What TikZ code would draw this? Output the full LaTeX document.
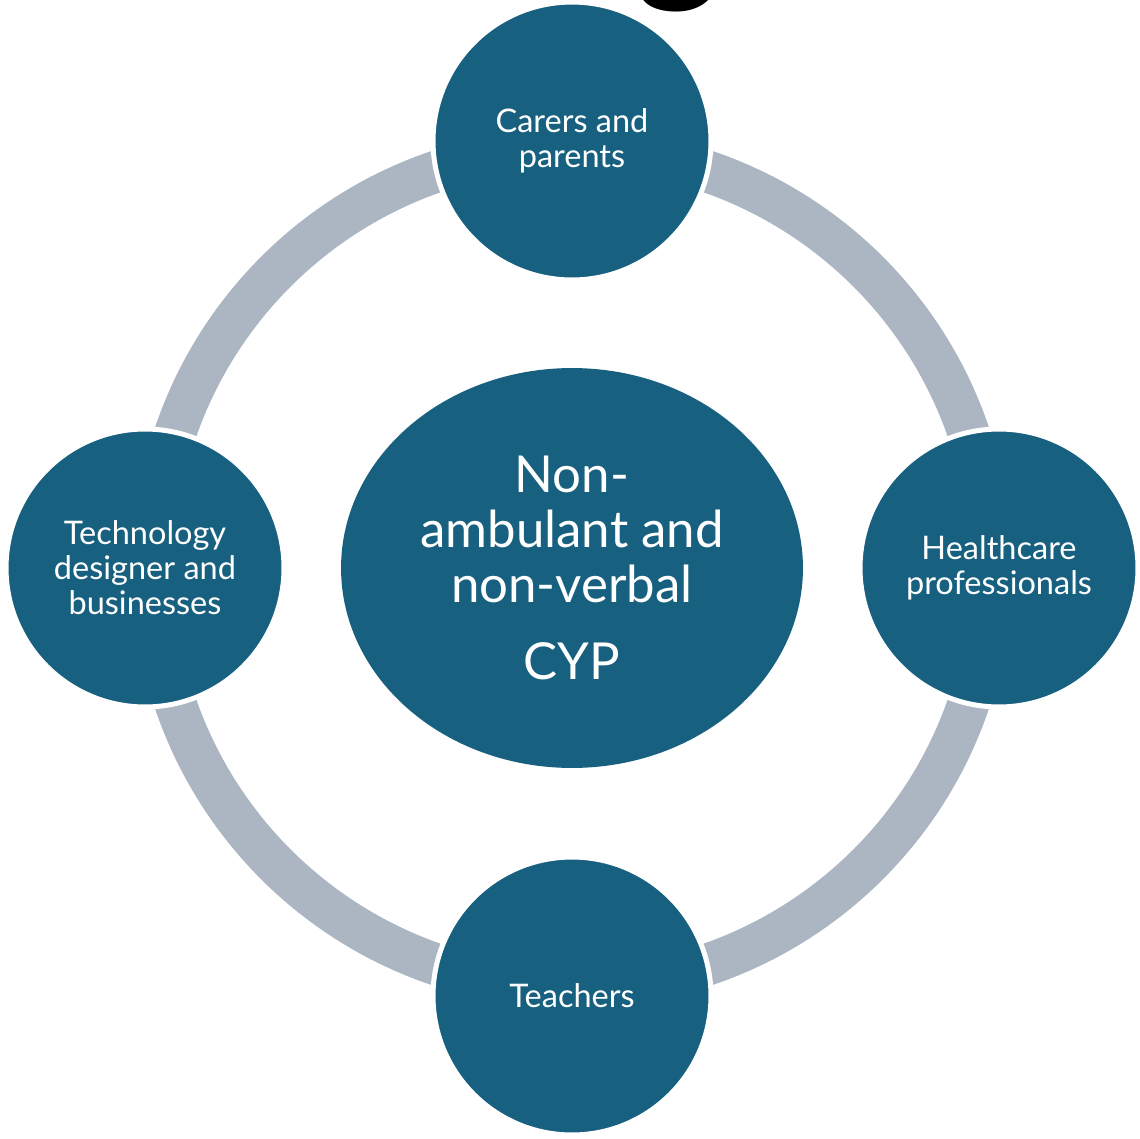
\documentclass[tikz,border=0pt]{standalone}
\usepackage{fontspec}
\setmainfont{Lato}
\usetikzlibrary{positioning,shapes.geometric}

\definecolor{hubblue}{HTML}{17607F}
\definecolor{ringgray}{HTML}{ABB6C2}

\begin{document}
\begin{tikzpicture}[x=0.02cm, y=-0.02cm,
    party/.style={circle, fill=hubblue, draw=white, line width=0.1cm,
        minimum size=5.56cm, inner sep=0pt, text=white, align=center,
        font=\fontsize{18.5}{19.9}\selectfont},
    hub/.style={ellipse, fill=hubblue, minimum width=9.24cm, minimum height=8cm,
        inner sep=0pt, text=white, align=center,
        font=\fontsize{29}{31.3}\selectfont},
    ringline/.style={draw=ringgray, line width=0.84cm}]
% Frame
\useasboundingbox (0,0) rectangle (1140,1139);
\clip (0,0) rectangle (1140,1139);

% Cut-off title letter
\node[font=\fontsize{90}{90}\selectfont\bfseries, anchor=base, inner sep=0pt] (title) at (678,-16) {g};

% Centre
\node[hub] (cyp) at (572,568) {Non-\\ambulant and\\non-verbal\\[0.44cm]CYP};

% Ring
\draw[ringline] (cyp.center) circle[radius=8.38cm];

% Surrounding parties
\node[party] (carers) at (572,141) {Carers and\\parents};
\node[party] (health) at (999,568) {Healthcare\\professionals};
\node[party] (teach) at (572,996) {Teachers};
\node[party] (tech) at (145,568) {Technology\\designer and\\businesses};
\end{tikzpicture}
\end{document}
